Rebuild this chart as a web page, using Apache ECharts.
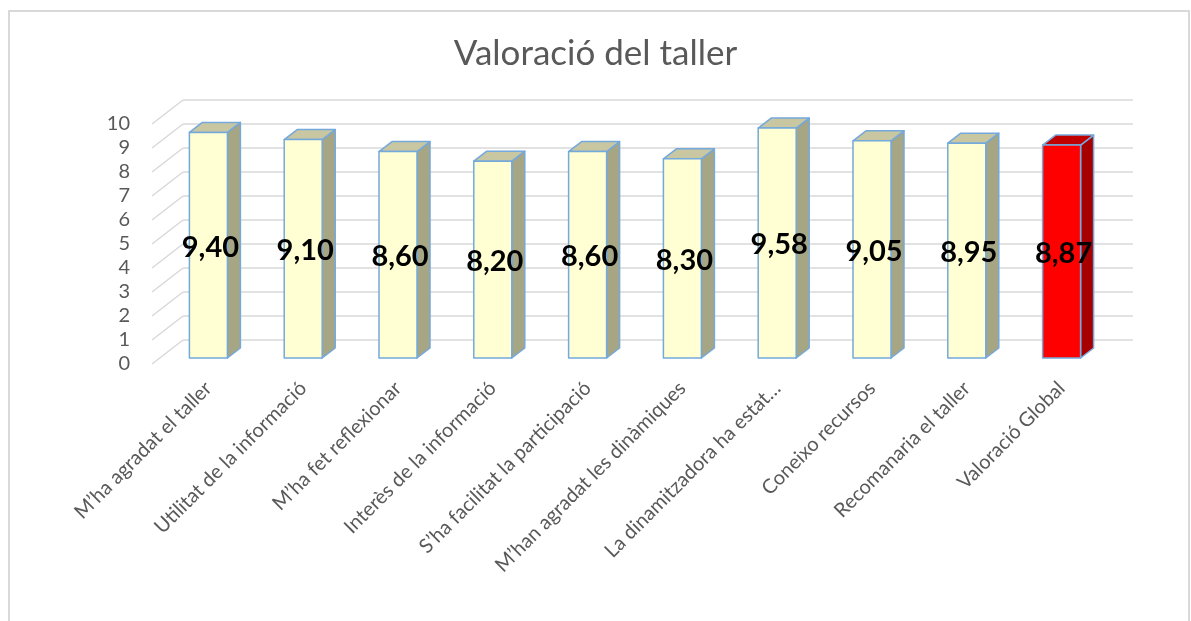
<!DOCTYPE html>
<html>
<head>
<meta charset="utf-8">
<title>Valoració del taller</title>
<script src="https://cdn.jsdelivr.net/npm/echarts@6/dist/echarts.min.js"></script>
<style>
  html, body { margin: 0; padding: 0; background: #fff; }
  #chart { width: 1191px; height: 621px; }
</style>
</head>
<body>
<div id="chart"></div>
<script>
// chart data
var categories = [
  'M\u2019ha agradat el taller',
  'Utilitat de la informació',
  'M\u2019ha fet reflexionar',
  'Interès de la informació',
  'S\u2019ha facilitat la participació',
  'M\u2019han agradat les dinàmiques',
  'La dinamitzadora ha estat…',
  'Coneixo recursos',
  'Recomanaria el taller',
  'Valoració Global'
];
var values = [9.40, 9.10, 8.60, 8.20, 8.60, 8.30, 9.58, 9.05, 8.95, 8.87];
var highlighted = ['Valoració Global'];
var yMin = 0, yMax = 10, yStep = 1;

var FONT = 'Lato, "Open Sans", sans-serif';
var GRAY = '#595959';
var GRID_LINE = '#d9d9d9';

// fake 3d depth, in pixels
var WALL_DX = 31, WALL_DY = -24;  // front edge -> back wall
var BAR_DX = 13, BAR_DY = -10;    // bar front face -> bar back face
var BAR_W = 38;

var ticks = [];
for (var t = yMin; t <= yMax; t += yStep) ticks.push([0, t]);

function fmt(v) {
  return v.toFixed(2).replace('.', ',');
}

// diagonal lines on the left wall (front edge to back wall)
function renderWall(params, api) {
  var p = api.coord([0, api.value(1)]);
  return {
    type: 'line',
    shape: { x1: p[0], y1: p[1], x2: p[0] + WALL_DX, y2: p[1] + WALL_DY },
    style: { stroke: GRID_LINE, lineWidth: 1.5 }
  };
}

function renderBar(params, api) {
  var i = api.value(0);
  var v = api.value(1);
  var base = api.coord([i, 0]);
  var top = api.coord([i, v]);
  var x = base[0] - BAR_W / 2;
  var y0 = base[1], y1 = top[1];
  var hot = highlighted.indexOf(categories[i]) >= 0;
  var c = hot ? { front: '#ff0000', side: '#a80000', top: '#c00000' }
              : { front: '#ffffd3', side: '#a6a584', top: '#c9c7a2' };
  var edge = { stroke: '#74a9dc', lineWidth: 1.5, lineJoin: 'round' };
  return {
    type: 'group',
    children: [
      {
        type: 'polygon',
        shape: { points: [[x + BAR_W, y1], [x + BAR_W + BAR_DX, y1 + BAR_DY], [x + BAR_W + BAR_DX, y0 + BAR_DY], [x + BAR_W, y0]] },
        style: echarts.util.extend({ fill: c.side }, edge)
      },
      {
        type: 'polygon',
        shape: { points: [[x, y1], [x + BAR_DX, y1 + BAR_DY], [x + BAR_W + BAR_DX, y1 + BAR_DY], [x + BAR_W, y1]] },
        style: echarts.util.extend({ fill: c.top }, edge)
      },
      {
        type: 'rect',
        shape: { x: x, y: y1, width: BAR_W, height: y0 - y1 },
        style: echarts.util.extend({ fill: c.front }, edge)
      },
      {
        type: 'text',
        z2: 10,
        style: {
          text: fmt(v),
          x: base[0] + 2,
          y: (y0 + y1) / 2 + 2,
          align: 'center',
          verticalAlign: 'middle',
          fill: '#000',
          fontFamily: FONT,
          fontWeight: 'bold',
          fontSize: 29
        }
      }
    ]
  };
}

var chart = echarts.init(document.getElementById('chart'));

chart.setOption({
  backgroundColor: '#fff',
  animation: false,
  title: {
    text: 'Valoració del taller',
    left: 'center',
    top: 31,
    textStyle: { fontFamily: FONT, fontWeight: 'normal', fontSize: 35, color: GRAY }
  },
  graphic: [{
    type: 'rect',
    shape: { x: 9, y: 11, width: 1180, height: 640 },
    style: { fill: null, stroke: GRID_LINE, lineWidth: 2 },
    silent: true
  }],
  grid: [
    // back wall
    { left: 183, top: 100, width: 950, height: 240 },
    // front edge, carries the value labels
    { left: 152, top: 124, width: 950, height: 240 },
    // plane of the bars
    { left: 161, top: 118, width: 948, height: 240 }
  ],
  xAxis: [
    { gridIndex: 0, type: 'value', min: 0, max: 1, show: false },
    { gridIndex: 1, type: 'value', min: 0, max: 1, show: false },
    {
      gridIndex: 2, type: 'category', data: categories,
      axisLine: { show: false }, axisTick: { show: false },
      axisLabel: { interval: 0, rotate: 45, margin: 27, color: GRAY, fontFamily: FONT, fontSize: 20 }
    }
  ],
  yAxis: [
    {
      gridIndex: 0, type: 'value', min: yMin, max: yMax, interval: yStep,
      axisLine: { show: false }, axisTick: { show: false }, axisLabel: { show: false },
      splitLine: { lineStyle: { color: GRID_LINE, width: 1.5 } }
    },
    {
      gridIndex: 1, type: 'value', min: yMin, max: yMax, interval: yStep,
      axisLine: { show: false }, axisTick: { show: false }, splitLine: { show: false },
      axisLabel: { margin: 22, color: GRAY, fontFamily: FONT, fontSize: 20 }
    },
    { gridIndex: 2, type: 'value', min: yMin, max: yMax, show: false }
  ],
  series: [
    {
      type: 'custom',
      xAxisIndex: 1, yAxisIndex: 1,
      renderItem: renderWall,
      data: ticks,
      silent: true,
      z: 1
    },
    {
      type: 'custom',
      xAxisIndex: 2, yAxisIndex: 2,
      renderItem: renderBar,
      encode: { x: 0, y: 1 },
      data: values.map(function (v, i) { return [i, v]; }),
      z: 5
    }
  ]
});
</script>
</body>
</html>
